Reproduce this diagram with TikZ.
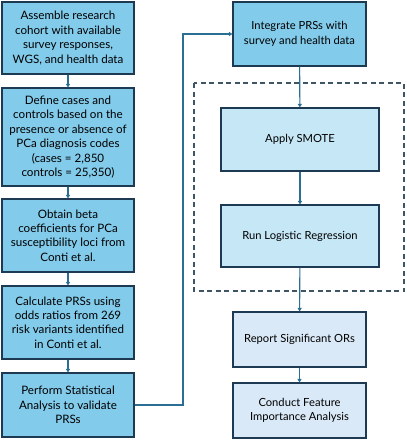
\documentclass[tikz,border=0pt]{standalone}
\usepackage{fontspec}
\setmainfont{Lato}
\usetikzlibrary{arrows.meta}
\definecolor{edge}{HTML}{1E3A52}
\definecolor{midblue}{HTML}{83CBEB}
\definecolor{lightblue}{HTML}{C6E7F6}
\definecolor{paleblue}{HTML}{DAE9F7}
\definecolor{arrowc}{HTML}{2A6F93}
\definecolor{dashc}{HTML}{3E5566}
\tikzset{
  box/.style={draw=edge, line width=1.1pt, align=center, inner sep=2pt, font=\fontsize{11.6}{14.4}\selectfont},
  bigbox/.style={box, fill=midblue, minimum width=132pt},
  smote/.style={box, fill=lightblue, minimum width=158pt, minimum height=63pt, font=\fontsize{11.2}{14.5}\selectfont},
  rep/.style={box, fill=paleblue, minimum width=133pt, minimum height=55pt, font=\fontsize{11.2}{14.5}\selectfont},
  arr/.style={draw=arrowc, line width=1.1pt, -{Triangle[length=3.5pt,width=4pt]}},
}
\begin{document}
\begin{tikzpicture}[x=1pt,y=-1pt]
\useasboundingbox (0,0) rectangle (407,440);
\node[bigbox, minimum height=72pt] (b1) at (68,38) {Assemble research\\cohort with available\\survey responses,\\WGS, and health data};
\node[bigbox, minimum height=98pt] (b2) at (68,137) {Define cases and\\controls based on the\\presence or absence of\\PCa diagnosis codes\\(cases = 2,850\\controls = 25,350)};
\node[bigbox, minimum height=73pt] (b3) at (68,235.5) {Obtain beta\\coefficients for PCa\\susceptibility loci from\\Conti et al.};
\node[bigbox, minimum height=73pt] (b4) at (68,322.5) {Calculate PRSs using\\odds ratios from 269\\risk variants identified\\in Conti et al.};
\node[bigbox, minimum height=64pt] (b5) at (68,405) {Perform Statistical\\Analysis to validate\\PRSs};
\node[bigbox, minimum width=133pt, minimum height=64pt, font=\fontsize{11.2}{14.6}\selectfont] (int) at (299.5,34) {Integrate PRSs with\\survey and health data};
\draw[dashc, line width=1.1pt, dash pattern=on 5pt off 3.5pt] (194,83) rectangle (404,291);
\node[smote] (sm) at (300,139.5) {Apply SMOTE};
\node[smote, minimum height=62pt] (lr) at (300,236) {Run Logistic Regression};
\node[rep] (or) at (299.5,339.5) {Report Significant ORs};
\node[rep] (fi) at (299.5,410.5) {Conduct Feature\\Importance Analysis};
\coordinate (turn) at (183,0);
\draw[arr] (b1) -- (b2);
\draw[arr] (b2) -- (b3);
\draw[arr] (b3) -- (b4);
\draw[arr] (b4) -- (b5);
\draw[arr] (b5.east) -- (b5.east -| turn) |- (int.west);
\draw[arr] (int) -- (sm);
\draw[arr] (sm) -- (lr);
\draw[arr] (lr) -- (or);
\draw[arr] (or) -- (fi);
\end{tikzpicture}
\end{document}
